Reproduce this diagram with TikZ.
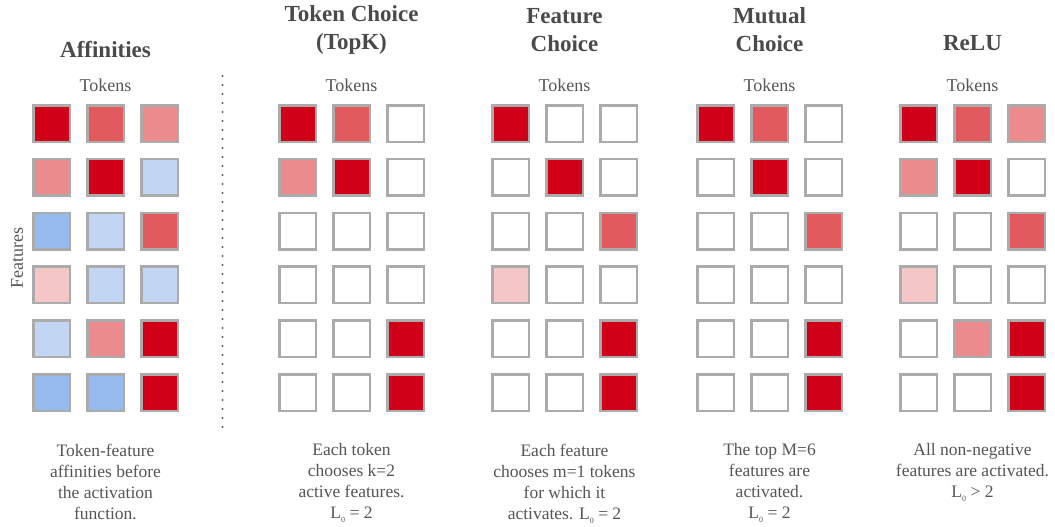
\documentclass[tikz,border=0pt]{standalone}
\usepackage{fontspec}
\setmainfont{Liberation Serif}
\definecolor{dr}{HTML}{CF0018}
\definecolor{mr}{HTML}{E35A5E}
\definecolor{lr}{HTML}{EB8B8D}
\definecolor{pk}{HTML}{F5C6C8}
\definecolor{lb}{HTML}{C2D5F3}
\definecolor{mb}{HTML}{96B9EE}
\definecolor{wh}{HTML}{FFFFFF}
\definecolor{cellgray}{HTML}{ABABAB}
\definecolor{txtgray}{HTML}{555555}
\definecolor{ttlgray}{HTML}{4A4A4A}
\definecolor{dotgray}{HTML}{5A5A5A}
\newcommand{\Lz}{L\raisebox{-4pt}{\fontsize{8}{8}\selectfont 0}}
\newcommand{\drawpanel}[3]{%
  \foreach \cl [count=\i from 0] in {#3} {
    \pgfmathtruncatemacro{\rr}{\i/3}
    \pgfmathtruncatemacro{\kk}{mod(\i,3)}
    \node[cell, fill=\cl] (#1-\rr-\kk) at ({#2+19.5+54*\kk},{123.5+53.8*\rr}) {};
  }}
\begin{document}
\begin{tikzpicture}[x=1pt,y=-1pt,
  cell/.style={draw=cellgray, line width=2.5pt, minimum size=36.5pt, inner sep=0pt},
  ttl/.style={text=ttlgray, font=\fontsize{23}{28}\selectfont\bfseries, align=center, inner sep=0pt},
  tok/.style={text=txtgray, font=\fontsize{18}{21}\selectfont, inner sep=0pt},
  captxt/.style={text=txtgray, font=\fontsize{17.5}{21}\selectfont, align=center, inner sep=0pt, anchor=north}]
\useasboundingbox (0,0) rectangle (1055,527);
% panels
\drawpanel{aff}{32}{dr,mr,lr, lr,dr,lb, mb,lb,mr, pk,lb,lb, lb,lr,dr, mb,mb,dr}
\drawpanel{tc}{278}{dr,mr,wh, lr,dr,wh, wh,wh,wh, wh,wh,wh, wh,wh,dr, wh,wh,dr}
\drawpanel{fc}{491}{dr,wh,wh, wh,dr,wh, wh,wh,mr, pk,wh,wh, wh,wh,dr, wh,wh,dr}
\drawpanel{mc}{696}{dr,mr,wh, wh,dr,wh, wh,wh,mr, wh,wh,wh, wh,wh,dr, wh,wh,dr}
\drawpanel{re}{899}{dr,mr,lr, lr,dr,wh, wh,wh,mr, pk,wh,wh, wh,lr,dr, wh,wh,dr}
% titles
\node[ttl] (t-aff) at (105.5,50) {Affinities};
\node[ttl] (t-tc) at (351.5,30) {Token Choice\\(TopK)};
\node[ttl] (t-fc) at (564.5,30) {Feature\\Choice};
\node[ttl] (t-mc) at (769.5,30) {Mutual\\Choice};
\node[ttl] (t-re) at (972.5,43) {ReLU};
% tokens labels
\foreach \n/\x in {aff/105.5, tc/351.5, fc/564.5, mc/769.5, re/972.5}
  \node[tok] (tok-\n) at (\x,85) {Tokens};
\node[tok, rotate=90] (feat) at (17,258) {Features};
% captions
\node[captxt] (c-aff) at (105.5,443.5) {Token-feature\\affinities before\\the activation\\function.};
\node[captxt] (c-tc) at (351.5,443.5) {Each token\\chooses k=2\\active features.\\\Lz{} = 2};
\node[captxt] (c-fc) at (564.5,443.5) {Each feature\\chooses m=1 tokens\\for which it\\activates. \Lz{} = 2};
\node[captxt] (c-mc) at (769.5,443.5) {The top M=6\\features are\\activated.\\\Lz{} = 2};
\node[captxt] (c-re) at (972.5,443.5) {All non-negative\\features are activated.\\\Lz{} {\textgreater} 2};
% divider
\coordinate (d1) at (222.5,76);
\coordinate (d2) at (222.5,434);
\draw[dotgray, line width=2.2pt, line cap=round, dash pattern=on 0pt off 9pt] (d1) -- (d2);
\end{tikzpicture}
\end{document}
